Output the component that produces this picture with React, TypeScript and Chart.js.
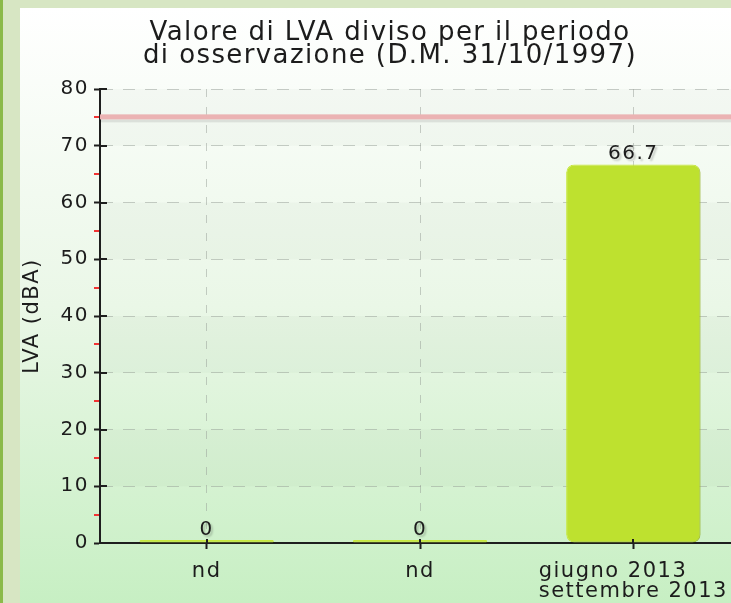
import React, { useEffect, useRef } from 'react';
import { Chart, registerables } from 'chart.js';

Chart.register(...registerables);

const categories: string[][] = [['nd'], ['nd'], ['giugno 2013', 'settembre 2013']];
const lvaValues: number[] = [0, 0, 66.7];
const limitValue = 75;
const yMin = 0;
const yMax = 80;
const yStep = 10;
const minorTickValues: number[] = [5, 15, 25, 35, 45, 55, 65, 75];
const bandRanges: number[][] = [[10, 20], [30, 40], [50, 60], [70, 80]];
const titleLines: string[] = ['Valore di LVA diviso per il periodo', 'di osservazione (D.M. 31/10/1997)'];
const yAxisTitle = 'LVA (dBA)';

const FONT = 'DejaVu Sans';
const LETTER_SPACING = '1.5px';
const TEXT = '#1c1c1c';
const AXIS = '#1e1e1e';

const decorPlugin = {
  id: 'decor',
  beforeInit(chart: any) { chart.ctx.letterSpacing = LETTER_SPACING; },
  beforeUpdate(chart: any) { chart.ctx.letterSpacing = LETTER_SPACING; },
  beforeLayout(chart: any) { chart.ctx.letterSpacing = LETTER_SPACING; },
  beforeDraw(chart: any) {
    const { ctx, chartArea, scales } = chart;
    ctx.letterSpacing = LETTER_SPACING;
    const y = scales.y;
    ctx.save();
    ctx.fillStyle = 'rgba(70,90,70,0.03)';
    bandRanges.forEach(([a, b]) => {
      const top = y.getPixelForValue(b);
      const bot = y.getPixelForValue(a);
      ctx.fillRect(chartArea.left, top, chartArea.right - chartArea.left, bot - top);
    });
    // title
    ctx.fillStyle = TEXT;
    ctx.font = `26px "${FONT}"`;
    ctx.letterSpacing = '1.4px';
    ctx.textAlign = 'center';
    ctx.textBaseline = 'alphabetic';
    titleLines.forEach((line, i) => {
      ctx.fillText(line, chart.width / 2, 32 + i * 23);
    });
    ctx.restore();
  },
  beforeDatasetsDraw(chart: any) {
    const { ctx, chartArea, scales } = chart;
    const ly = scales.y.getPixelForValue(limitValue);
    const w = chartArea.right - chartArea.left;
    ctx.save();
    ctx.fillStyle = 'rgba(0,0,0,0.09)';
    ctx.fillRect(chartArea.left, ly + 2, w, 3);
    ctx.fillStyle = '#ebb3b3';
    ctx.fillRect(chartArea.left, ly - 3, w, 5);
    ctx.restore();
  },
  beforeDatasetDraw(chart: any) {
    const ctx = chart.ctx;
    ctx.save();
    ctx.shadowColor = 'rgba(0,0,0,0.16)';
    ctx.shadowOffsetX = 4;
    ctx.shadowOffsetY = 3;
    ctx.shadowBlur = 3;
  },
  afterDatasetDraw(chart: any) {
    chart.ctx.restore();
  },
  afterDatasetsDraw(chart: any) {
    const { ctx } = chart;
    const meta = chart.getDatasetMeta(0);
    ctx.save();
    ctx.letterSpacing = LETTER_SPACING;
    ctx.font = `20px "${FONT}"`;
    ctx.textAlign = 'center';
    ctx.textBaseline = 'alphabetic';
    ctx.shadowColor = 'rgba(0,0,0,0.2)';
    ctx.shadowOffsetX = 2;
    ctx.shadowOffsetY = 2;
    ctx.shadowBlur = 2;
    ctx.fillStyle = TEXT;
    meta.data.forEach((bar: any, i: number) => {
      ctx.fillText(String(lvaValues[i]), bar.x, bar.y - 5);
    });
    ctx.restore();
  },
  afterDraw(chart: any) {
    const { ctx, chartArea, scales } = chart;
    const y = scales.y;
    const x = scales.x;
    ctx.save();
    ctx.lineWidth = 2;
    // inner part of major y ticks
    ctx.strokeStyle = AXIS;
    for (let v = yMin; v <= yMax; v += yStep) {
      const py = Math.round(y.getPixelForValue(v));
      ctx.beginPath();
      ctx.moveTo(chartArea.left, py);
      ctx.lineTo(chartArea.left + 7, py);
      ctx.stroke();
    }
    // inner part of x ticks
    categories.forEach((_, i) => {
      const px = Math.round(x.getPixelForValue(i));
      ctx.beginPath();
      ctx.moveTo(px, chartArea.bottom);
      ctx.lineTo(px, chartArea.bottom - 4);
      ctx.stroke();
    });
    // red minor ticks
    ctx.strokeStyle = '#f03434';
    minorTickValues.forEach((v) => {
      const py = Math.round(y.getPixelForValue(v));
      ctx.beginPath();
      ctx.moveTo(chartArea.left - 6, py);
      ctx.lineTo(chartArea.left - 1, py);
      ctx.stroke();
    });
    // category labels: block centred on the tick, lines left-aligned inside the block
    ctx.fillStyle = TEXT;
    ctx.font = `21px "${FONT}"`;
    ctx.letterSpacing = LETTER_SPACING;
    ctx.textAlign = 'left';
    ctx.textBaseline = 'alphabetic';
    categories.forEach((lines, i) => {
      const px = x.getPixelForValue(i);
      const blockW = Math.max(...lines.map((l) => ctx.measureText(l).width));
      const left = px - blockW / 2;
      lines.forEach((l, j) => {
        ctx.fillText(l, left, chartArea.bottom + 34 + j * 20);
      });
    });
    ctx.restore();
  },
};

export default function App() {
  const ref = useRef<HTMLCanvasElement>(null);

  useEffect(() => {
    const canvas = ref.current!;
    const chart = new Chart(canvas, {
      type: 'bar',
      data: {
        labels: categories,
        datasets: [
          {
            data: lvaValues,
            backgroundColor: '#bee12f',
            borderColor: '#c7e83c',
            borderWidth: 1,
            borderRadius: 8,
            borderSkipped: false,
            minBarLength: 3,
            barPercentage: 0.63,
            categoryPercentage: 1,
          },
        ],
      },
      options: {
        responsive: false,
        animation: false,
        devicePixelRatio: 1,
        layout: { padding: { left: 0, right: 20, top: 81, bottom: 0 } },
        plugins: {
          legend: { display: false },
          tooltip: { enabled: false },
          title: { display: false },
        },
        scales: {
          x: {
            afterFit: (s: any) => { s.height = 60; },
            grid: {
              offset: false,
              color: 'rgba(150,158,150,0.5)',
              lineWidth: 1,
              tickColor: AXIS,
              tickLength: 6,
              tickWidth: 2,
            },
            border: { color: AXIS, width: 2, dash: [8, 10] },
            ticks: {
              display: false,
              maxRotation: 0,
              autoSkip: false,
            },
          },
          y: {
            min: yMin,
            max: yMax,
            afterFit: (s: any) => { s.width = 80; },
            grid: {
              color: 'rgba(150,158,150,0.5)',
              lineWidth: 1,
              tickColor: AXIS,
              tickLength: 6,
              tickWidth: 2,
            },
            border: { color: AXIS, width: 2, dash: [12, 10] },
            ticks: {
              stepSize: yStep,
              color: TEXT,
              padding: 5,
              font: { family: FONT, size: 20 },
            },
            title: {
              display: true,
              text: yAxisTitle,
              color: TEXT,
              font: { family: FONT, size: 21 },
              padding: { top: 0, bottom: 0 },
            },
          },
        },
      },
      plugins: [decorPlugin],
    } as any);
    return () => chart.destroy();
  }, []);

  return (
    <div
      style={{
        position: 'absolute',
        left: 0,
        top: 0,
        width: 731,
        height: 603,
        overflow: 'hidden',
        background: '#d7e6c3',
      }}
    >
      <div style={{ position: 'absolute', left: 0, top: 0, width: 3, height: 603, background: '#8bba4a' }} />
      <div
        style={{
          position: 'absolute',
          left: 20,
          top: 8,
          width: 711,
          height: 595,
          overflow: 'hidden',
          background: 'linear-gradient(to bottom, #ffffff 0%, #eaf7e7 50%, #c7efc3 100%)',
        }}
      >
        <canvas ref={ref} width={740} height={595} style={{ display: 'block', width: 740, height: 595 }} />
      </div>
    </div>
  );
}
